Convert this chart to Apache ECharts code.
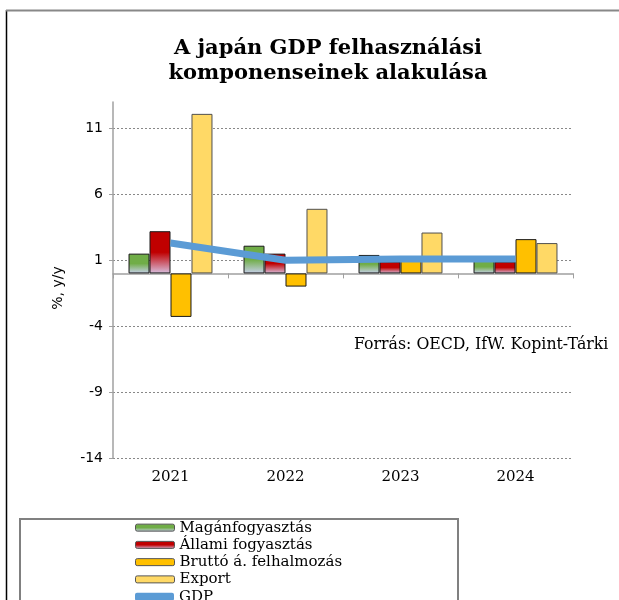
<!DOCTYPE html>
<html>
<head>
<meta charset="utf-8">
<script src="https://cdn.jsdelivr.net/npm/echarts@6/dist/echarts.min.js"></script>
<style>html,body{margin:0;padding:0;background:#fff;}#c{width:619px;height:600px;}</style>
</head>
<body>
<div id="c"></div>
<script>
var categories = ['2021', '2022', '2023', '2024'];
var seriesNames = ['Magánfogyasztás', 'Állami fogyasztás', 'Bruttó á. felhalmozás', 'Export', 'GDP'];
var maganfogyasztas = [1.5, 2.1, 1.4, 1.0];
var allamiFogyasztas = [3.2, 1.5, 0.9, 0.9];
var bruttoFelhalmozas = [-3.3, -1.0, 1.0, 2.6];
var exportValues = [12.1, 4.9, 3.1, 2.3];
var gdp = [2.3, 1.0, 1.1, 1.1];
var yTicks = { min: -14, max: 13, interval: 5 };

function grad(c, low) {
  return { type: 'linear', x: 0, y: 0, x2: 0, y2: 1,
    colorStops: [{ offset: 0, color: c }, { offset: 0.5, color: c }, { offset: 1, color: low }] };
}
var serif = 'DejaVu Serif';
var chart = echarts.init(document.getElementById('c'));
function barSeries(name, data, color, border) {
  return { name: name, type: 'bar', data: data, barGap: '0%', barCategoryGap: '27%',
    itemStyle: { color: color, borderColor: border, borderWidth: 1 } };
}
var legendText = { fontFamily: serif, fontSize: 15, color: '#000', lineHeight: 17.25, padding: [0, 0, 0, 0] };
chart.setOption({
  animation: false,
  title: {
    text: 'A japán GDP felhasználási\nkomponenseinek alakulása',
    left: 323, top: 31, textAlign: 'center',
    textStyle: { fontFamily: serif, fontWeight: 'bold', fontSize: 21, lineHeight: 25, color: '#000' }
  },
  grid: { left: 113, right: 46, top: 102, bottom: 142 },
  legend: [{
    orient: 'vertical', left: 135, top: 519, padding: 0, itemGap: 0, itemWidth: 39, itemHeight: 7,
    textStyle: legendText,
    itemStyle: { borderColor: '#555', borderWidth: 1 },
    data: [
      { name: seriesNames[0], icon: 'roundRect' },
      { name: seriesNames[1], icon: 'roundRect' },
      { name: seriesNames[2], icon: 'roundRect' },
      { name: seriesNames[3], icon: 'roundRect' }
    ]
  }, {
    orient: 'vertical', left: 135, top: 588, padding: 0, itemGap: 0, itemWidth: 39, itemHeight: 8,
    textStyle: legendText,
    data: [
      { name: seriesNames[4], icon: 'roundRect',
        itemStyle: { color: '#5B9BD5', borderWidth: 0 } }
    ]
  }],
  xAxis: [
    { type: 'category', data: categories, position: 'bottom',
      axisLine: { onZero: true, lineStyle: { color: '#A0A0A0', width: 1.5 } },
      axisTick: { show: true, length: 5, lineStyle: { color: '#A0A0A0' } },
      axisLabel: { show: false }, splitLine: { show: false } },
    { type: 'category', data: categories, position: 'bottom',
      axisLine: { show: false, onZero: false }, axisTick: { show: false },
      axisLabel: { fontFamily: serif, fontSize: 15, color: '#000', margin: 12 } }
  ],
  yAxis: {
    type: 'value', min: yTicks.min, max: yTicks.max, interval: yTicks.interval,
    name: '%, y/y', nameLocation: 'middle', nameGap: 48, nameRotate: 90,
    nameTextStyle: { fontFamily: 'DejaVu Sans', fontSize: 14, color: '#000', padding: [0, 0, 0, -16] },
    axisLine: { show: true, lineStyle: { color: '#A0A0A0', width: 1.5 } },
    axisTick: { show: true, length: 4, lineStyle: { color: '#A0A0A0' } },
    axisLabel: { fontFamily: 'DejaVu Sans', fontSize: 14, color: '#000', margin: 10, showMaxLabel: false },
    splitLine: { show: true, showMaxLine: false, lineStyle: { color: '#888', type: [2, 2], width: 1 } }
  },
  series: [
    barSeries(seriesNames[0], maganfogyasztas, grad('#70AD47', '#C8D0EC'), '#1a1a1a'),
    barSeries(seriesNames[1], allamiFogyasztas, grad('#C00000', '#D8C0E0'), '#1a1a1a'),
    barSeries(seriesNames[2], bruttoFelhalmozas, '#FFC000', '#1a1a1a'),
    barSeries(seriesNames[3], exportValues, '#FFD966', '#505050'),
    { name: seriesNames[4], type: 'line', data: gdp, symbol: 'none', z: 5,
      lineStyle: { color: '#5B9BD5', width: 7 }, itemStyle: { color: '#5B9BD5' } }
  ],
  graphic: [
    { type: 'line', shape: { x1: 6.5, y1: 10, x2: 6.5, y2: 600 }, style: { stroke: '#000', lineWidth: 1.5 } },
    { type: 'line', shape: { x1: 6, y1: 10.5, x2: 619, y2: 10.5 }, style: { stroke: '#888', lineWidth: 2 } },
    { type: 'rect', shape: { x: 20, y: 519, width: 438, height: 100 }, style: { fill: 'none', stroke: '#808080', lineWidth: 2 }, z: -1 },
    { type: 'text', left: 354, top: 337, style: { text: 'Forrás: OECD, IfW. Kopint-Tárki', fontFamily: serif, fontSize: 15.75, fill: '#000' } }
  ]
});
</script>
</body>
</html>
